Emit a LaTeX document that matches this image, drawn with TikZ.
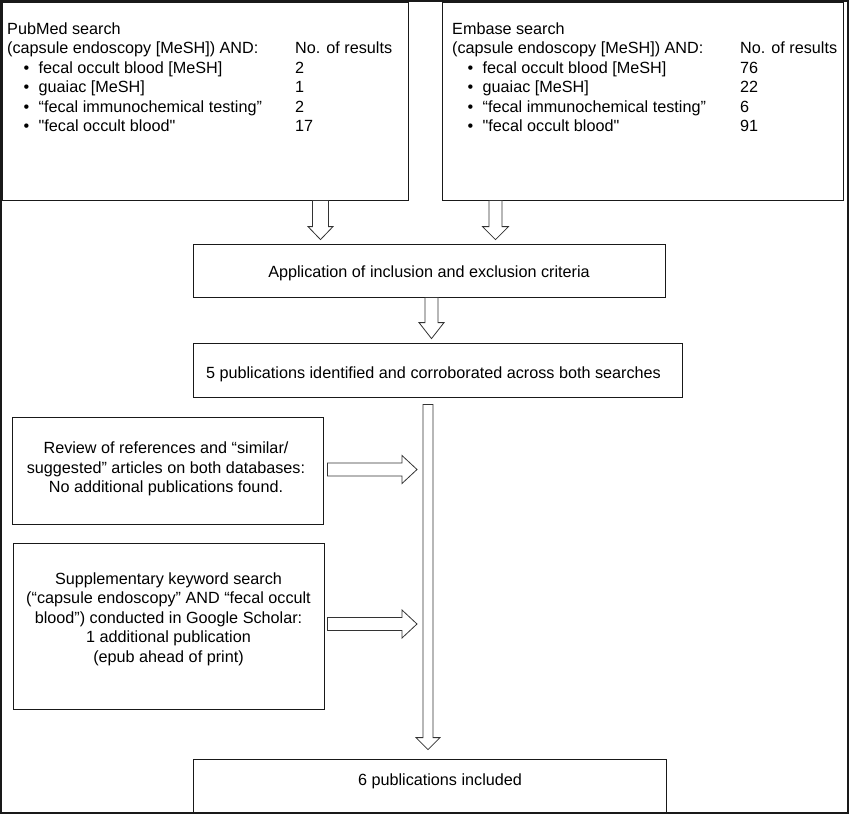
\documentclass[tikz,border=0pt]{standalone}
\usepackage{fontspec}
\setmainfont{Liberation Sans}[Ligatures=TeXOff]
\usetikzlibrary{calc}
\tikzset{
  box/.style={draw=black!90, line width=0.8pt, rectangle, inner sep=0pt},
  txt/.style={inner sep=0pt, anchor=base west, font=\fontsize{16.2}{19.5}\selectfont},
  ctxt/.style={inner sep=0pt, anchor=center, align=center, font=\fontsize{16.2}{19.5}\selectfont},
  blockarr/.style={draw=black!80, line width=0.8pt, fill=white, line join=miter},
  frame/.style={draw=black!90, line width=2pt}
}
\newcommand\blockdown[5]{%
  \draw[blockarr] let \p1=(#1), \p2=(#2) in
  ({\x1-#3pt},\y1) -- ({\x1-#3pt},{\y2+#5pt}) -- ({\x1-#4pt},{\y2+#5pt}) -- (\x1,\y2)
  -- ({\x1+#4pt},{\y2+#5pt}) -- ({\x1+#3pt},{\y2+#5pt}) -- ({\x1+#3pt},\y1) -- cycle;}
\newcommand\blockright[5]{%
  \draw[blockarr] let \p1=(#1), \p2=(#2) in
  (\x1,{\y1+#3pt}) -- ({\x2-#5pt},{\y1+#3pt}) -- ({\x2-#5pt},{\y1+#4pt}) -- (\x2,\y1)
  -- ({\x2-#5pt},{\y1-#4pt}) -- ({\x2-#5pt},{\y1-#3pt}) -- (\x1,{\y1-#3pt}) -- cycle;}
\begin{document}
\begin{tikzpicture}[x=1pt,y=-1pt]
\useasboundingbox (0,0) rectangle (849,814);
\draw[frame] (1,1) rectangle (848,813);

% boxes
\node[box, minimum width=406pt, minimum height=198pt] (pub) at (205,101) {};
\node[box, minimum width=401pt, minimum height=198pt] (emb) at (642.5,101) {};
\node[box, minimum width=472pt, minimum height=53pt] (app) at (429,270.5) {};
\node[box, minimum width=489pt, minimum height=54pt] (five) at (437.5,370) {};
\node[box, minimum width=311pt, minimum height=107pt] (rev) at (167.5,470.5) {};
\node[box, minimum width=311pt, minimum height=166pt] (sup) at (168.5,626) {};
\node[box, minimum width=473pt, minimum height=53pt] (fin) at (429.5,785.5) {};

% PubMed text
\node[txt] (p1) at (7,34) {PubMed search};
\node[txt] (p2) at (7,53.5) {(capsule endoscopy [MeSH]) AND:};
\node[txt] (p2n) at (295,53.5) {No. of results};
\node[txt] (p3b) at (23.5,73) {•};
\node[txt] (p3) at (38.5,73) {fecal occult blood [MeSH]};
\node[txt] (p3n) at (295,73) {2};
\node[txt] (p4b) at (23.5,92.5) {•};
\node[txt] (p4) at (38.5,92.5) {guaiac [MeSH]};
\node[txt] (p4n) at (295,92.5) {1};
\node[txt] (p5b) at (23.5,112) {•};
\node[txt] (p5) at (38.5,112) {“fecal immunochemical testing”};
\node[txt] (p5n) at (295,112) {2};
\node[txt] (p6b) at (23.5,131.5) {•};
\node[txt] (p6) at (38.5,131.5) {"fecal occult blood"};
\node[txt] (p6n) at (295,131.5) {17};

% Embase text
\node[txt] (e1) at (452,34) {Embase search};
\node[txt] (e2) at (452,53.5) {(capsule endoscopy [MeSH]) AND:};
\node[txt] (e2n) at (740,53.5) {No. of results};
\node[txt] (e3b) at (467.5,73) {•};
\node[txt] (e3) at (482.5,73) {fecal occult blood [MeSH]};
\node[txt] (e3n) at (740,73) {76};
\node[txt] (e4b) at (467.5,92.5) {•};
\node[txt] (e4) at (482.5,92.5) {guaiac [MeSH]};
\node[txt] (e4n) at (740,92.5) {22};
\node[txt] (e5b) at (467.5,112) {•};
\node[txt] (e5) at (482.5,112) {“fecal immunochemical testing”};
\node[txt] (e5n) at (740,112) {6};
\node[txt] (e6b) at (467.5,131.5) {•};
\node[txt] (e6) at (482.5,131.5) {"fecal occult blood"};
\node[txt] (e6n) at (740,131.5) {91};

% centered texts
\node[ctxt] (apptxt) at (429,273) {Application of inclusion and exclusion criteria};
\node[ctxt] (fivetxt) at (433.5,374) {5 publications identified and corroborated across both searches};
\node[ctxt] (revtxt) at (166,469) {Review of references and “similar/\\suggested” articles on both databases:\\No additional publications found.};
\node[ctxt] (suptxt) at (168.5,619) {Supplementary keyword search\\(“capsule endoscopy” AND “fecal occult\\blood”) conducted in Google Scholar:\\1 additional publication\\(epub ahead of print)};
\node[ctxt] (fintxt) at (440,781) {6 publications included};

% arrow end points
\coordinate (a1s) at ([xshift=115.5pt]pub.south);
\coordinate (a1e) at ([xshift=-108.5pt,yshift=4pt]app.north);
\coordinate (a2s) at ([xshift=-147pt]emb.south);
\coordinate (a2e) at ([xshift=66.5pt,yshift=4pt]app.north);
\coordinate (a3s) at ([xshift=2.5pt]app.south);
\coordinate (a3e) at ([xshift=-6pt,yshift=4pt]five.north);
\coordinate (a4s) at ([xshift=-9.5pt,yshift=-7pt]five.south);
\coordinate (a4e) at ([xshift=-1.5pt,yshift=9pt]fin.north);
\coordinate (a5s) at ([xshift=4pt,yshift=1pt]rev.east);
\path (a4s |- a5s) ++(-11pt,0pt) coordinate (a5e);
\coordinate (a6s) at ([xshift=3pt,yshift=2pt]sup.east);
\path (a4s |- a6s) ++(-11pt,0pt) coordinate (a6e);

\blockdown{a1s}{a1e}{8}{12.5}{13}
\blockdown{a2s}{a2e}{6.5}{13}{13}
\blockdown{a3s}{a3e}{6.5}{12.5}{16}
\blockdown{a4s}{a4e}{5}{12}{12}
\blockright{a5s}{a5e}{6.5}{14}{15}
\blockright{a6s}{a6e}{6.5}{14}{15}
\end{tikzpicture}
\end{document}
